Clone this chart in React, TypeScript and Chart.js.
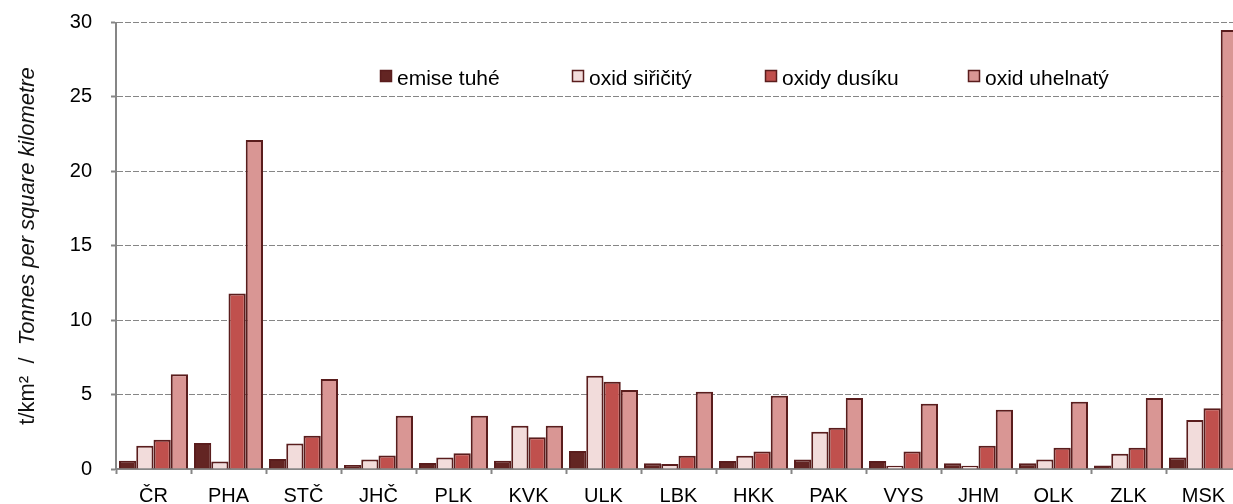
import React, { useEffect, useRef } from "react";
import { Chart, registerables } from "chart.js";

Chart.register(...registerables);

const categories = ["ČR", "PHA", "STČ", "JHČ", "PLK", "KVK", "ULK", "LBK", "HKK", "PAK", "VYS", "JHM", "OLK", "ZLK", "MSK"];
const emiseTuhe = [0.56, 1.74, 0.67, 0.27, 0.4, 0.56, 1.21, 0.38, 0.54, 0.64, 0.54, 0.38, 0.38, 0.24, 0.78];
const oxidSiricity = [1.56, 0.51, 1.72, 0.64, 0.78, 2.91, 6.26, 0.34, 0.89, 2.5, 0.22, 0.22, 0.64, 1.03, 3.29];
const oxidyDusiku = [1.97, 11.8, 2.24, 0.91, 1.05, 2.13, 5.86, 0.89, 1.18, 2.77, 1.18, 1.56, 1.43, 1.43, 4.09];
const oxidUhelnaty = [6.37, 22.1, 6.04, 3.58, 3.58, 2.91, 5.3, 5.19, 4.92, 4.77, 4.38, 3.98, 4.52, 4.77, 29.5];
const seriesNames = ["emise tuhé", "oxid siřičitý", "oxidy dusíku", "oxid uhelnatý"];
const yTickValues = [0, 5, 10, 15, 20, 25, 30];
const yTitleUnit = "t/km²  /  ";
const yTitleText = "Tonnes per square kilometre";

const FILLS = ["#632523", "#f2dcdb", "#c0504d", "#d99694"];
const BORDER = "#5a1d1d";
const GRID = "#868686";
const FONT = '"Liberation Sans", Arial, sans-serif';
const LEGEND_X = [380, 572, 765, 968];

const overlayPlugin = {
  id: "overlay",
  afterDraw(chart: any) {
    const ctx = chart.ctx as CanvasRenderingContext2D;
    ctx.save();
    // legend
    ctx.font = `21px ${FONT}`;
    ctx.textBaseline = "alphabetic";
    ctx.textAlign = "left";
    chart.data.datasets.forEach((ds: any, i: number) => {
      const x = LEGEND_X[i];
      ctx.fillStyle = ds.backgroundColor;
      ctx.fillRect(x + 0.5, 70.5, 11, 11);
      ctx.strokeStyle = BORDER;
      ctx.lineWidth = 1.5;
      ctx.strokeRect(x + 0.5, 70.5, 11, 11);
      ctx.fillStyle = "#000";
      ctx.fillText(ds.label, x + 17, 85);
    });
    // y title
    ctx.translate(34, 246);
    ctx.rotate(-Math.PI / 2);
    const f1 = `22px ${FONT}`;
    const f2 = `italic 22px ${FONT}`;
    ctx.font = f1;
    const w1 = ctx.measureText(yTitleUnit).width;
    ctx.font = f2;
    const w2 = ctx.measureText(yTitleText).width;
    const start = -(w1 + w2) / 2;
    ctx.fillStyle = "#111";
    ctx.font = f1;
    ctx.fillText(yTitleUnit, start, 0);
    ctx.font = f2;
    ctx.fillText(yTitleText, start + w1, 0);
    ctx.restore();
  },
};

export default function App() {
  const ref = useRef<HTMLCanvasElement | null>(null);

  useEffect(() => {
    if (!ref.current) return;
    const seriesData = [emiseTuhe, oxidSiricity, oxidyDusiku, oxidUhelnaty];
    const chart = new Chart(ref.current, {
      type: "bar",
      data: {
        labels: categories,
        datasets: seriesData.map((d, i) => ({
          label: seriesNames[i],
          data: d,
          backgroundColor: FILLS[i],
          borderColor: BORDER,
          borderWidth: 2,
          categoryPercentage: 0.92,
          barPercentage: 1.0,
        })),
      },
      options: {
        responsive: false,
        animation: false,
        devicePixelRatio: 1,
        layout: { padding: { top: 22.5, left: 0, right: 0, bottom: 0 } },
        plugins: {
          legend: { display: false },
          tooltip: { enabled: false },
          title: { display: false },
        },
        scales: {
          x: {
            offset: true,
            grid: {
              display: true,
              drawOnChartArea: false,
              drawTicks: true,
              tickLength: 5,
              tickColor: GRID,
              tickWidth: 2,
              offset: true,
            },
            border: { display: true, color: GRID, width: 2 },
            ticks: {
              color: "#000",
              font: { family: FONT, size: 20 },
              padding: 10,
              maxRotation: 0,
              autoSkip: false,
            },
            afterFit(scale: any) {
              scale.height = 35;
              scale.paddingLeft = 0;
              scale.paddingRight = 0;
            },
          },
          y: {
            min: 0,
            max: 30,
            afterBuildTicks(scale: any) {
              scale.ticks = yTickValues.map((v) => ({ value: v }));
            },
            grid: {
              color: GRID,
              lineWidth: 1,
              drawTicks: true,
              tickLength: 5,
              tickColor: GRID,
              tickWidth: 2,
              tickBorderDash: [],
            },
            border: { display: true, color: GRID, width: 2, dash: [6, 2] },
            ticks: {
              color: "#000",
              font: { family: FONT, size: 20 },
              padding: 19,
            },
            afterFit(scale: any) {
              scale.width = 116;
              scale.paddingTop = 0;
              scale.paddingBottom = 0;
            },
          },
        },
      },
      plugins: [overlayPlugin],
    });
    return () => chart.destroy();
  }, []);

  return (
    <div
      style={{
        position: "fixed",
        left: 0,
        top: 0,
        width: 1233,
        height: 504,
        overflow: "hidden",
        background: "#fff",
      }}
    >
      <canvas ref={ref} width={1241} height={504} style={{ width: 1241, height: 504, display: "block" }} />
    </div>
  );
}
